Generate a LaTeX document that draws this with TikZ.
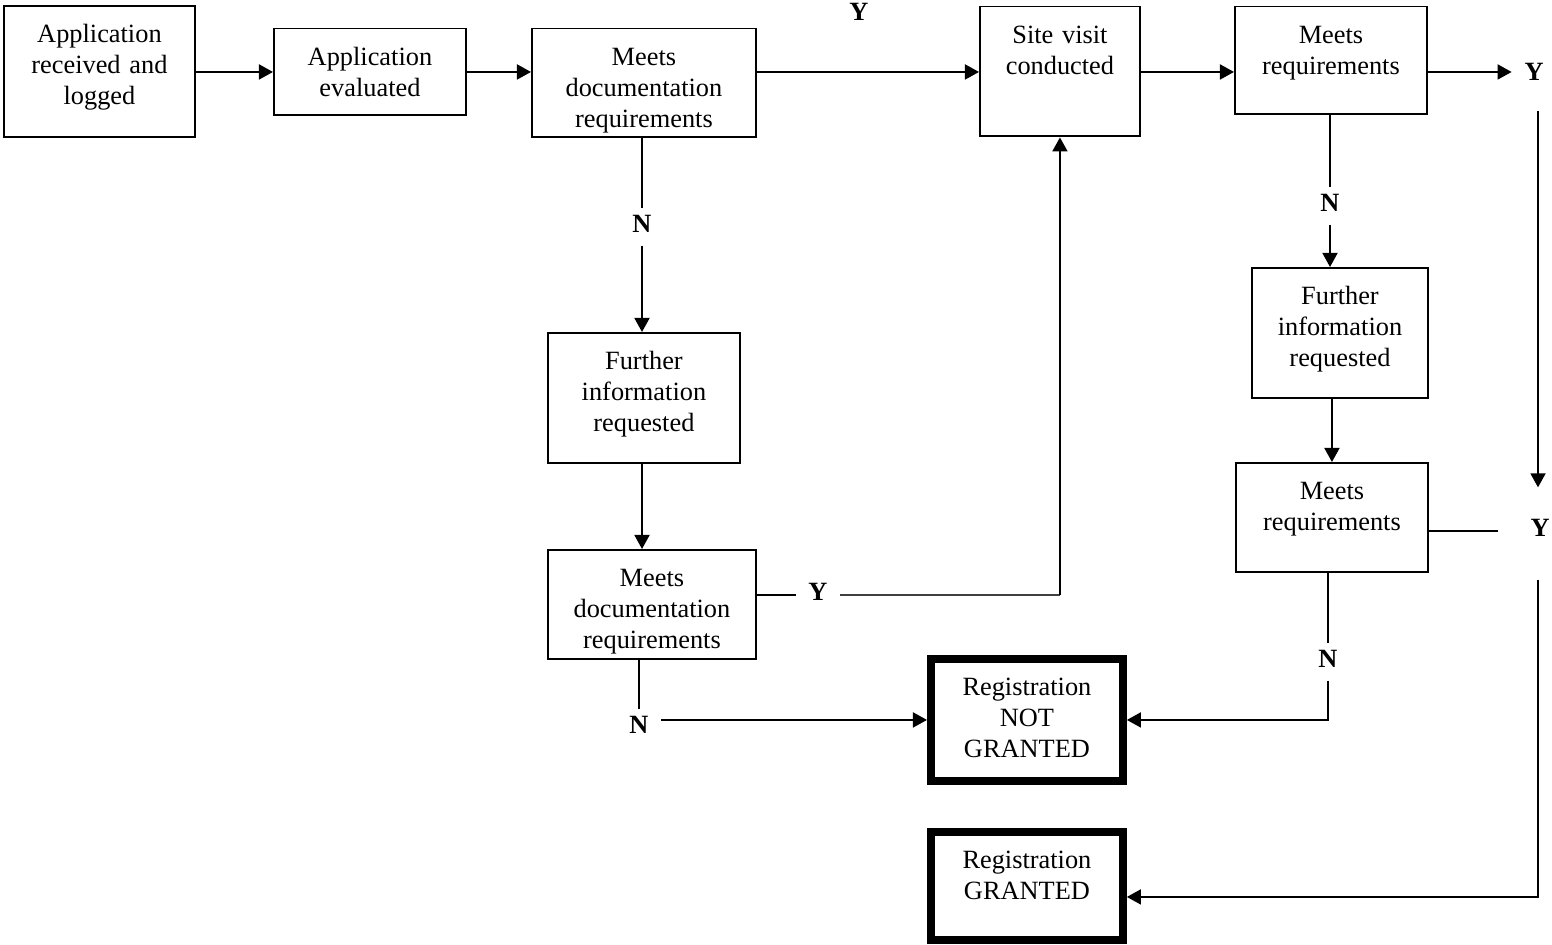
\documentclass[tikz,border=0pt]{standalone}
\usepackage{fontspec}
\setmainfont{Liberation Serif}
\usepackage{tikz}
\usetikzlibrary{positioning, arrows.meta, calc}

\newcommand{\flowfont}{\fontsize{15}{17.6}\selectfont}

\tikzset{
  box/.style 2 args={draw, line width=1.1pt, align=center, anchor=north west, font=\flowfont,
              inner xsep=0pt, inner ysep=0.38cm, text width=#1, text height=0.36cm, text depth=#2},
  endbox/.style 2 args={box={#1}{#2}, line width=4.5pt},
  yn/.style={font=\flowfont\bfseries, inner sep=0.25cm, text height=0.66em, text depth=0pt},
  arr/.style={-{Triangle[length=8pt,width=8.5pt]}, line width=1.2pt},
  link/.style={line width=1.2pt},
  thinlink/.style={line width=0.6pt, black!75}
}

\begin{document}
\begin{tikzpicture}[x=0.02cm, y=-0.02cm]
  \fill[white, use as bounding box] (0,0) rectangle (1552,944);

  % main line
  \node[box={3.82cm}{1.50cm}] (recv) at (3,5) {Application\\received and\\logged};
  \node[box={3.84cm}{0.62cm}] (eval) at (273,27.5) {Application\\evaluated};
  \node[box={4.48cm}{1.06cm}] (doc1) at (531,27.5) {Meets\\documentation\\requirements};
  \node[box={3.20cm}{1.48cm}] (site) at (979,5.5) {Site visit\\conducted};
  \node[box={3.84cm}{1.04cm}] (req1) at (1234,5.5) {Meets\\requirements};

  % documentation branch
  \node[box={3.84cm}{1.48cm}] (info1) at (547,332) {Further\\information\\requested};
  \node[box={4.16cm}{1.06cm}] (doc2) at (547,549) {Meets\\documentation\\requirements};

  % site visit branch
  \node[box={3.52cm}{1.48cm}] (info2) at (1251,267) {Further\\information\\requested};
  \node[box={3.84cm}{1.06cm}] (req2) at (1235,462) {Meets\\requirements};

  % outcomes
  \node[endbox={3.84cm}{1.32cm}] (refused) at (927,655) {Registration\\NOT\\GRANTED};
  \node[endbox={3.84cm}{1.04cm}] (granted) at (927,828) {Registration\\GRANTED};

  % Y / N labels
  \node[yn] (yTop) at (859,15) {Y};
  \node[yn] (nDoc1) at (642,227) {N};
  \node[yn] (nReq1) at (1330,206) {N};
  \node[yn] (yReq1) at (1534,75) {Y};
  \node[yn] (yReq2) at (1540,531) {Y};
  \node[yn] (yDoc2) at (818,595) {Y};
  \node[yn] (nDoc2) at (639,728) {N};
  \node[yn] (nReq2) at (1328,662) {N};

  % connectors
  \draw[arr] (recv.east |- eval) -- (eval);
  \draw[arr] (eval) -- (eval -| doc1.west);
  \draw[arr] (doc1.east |- eval) -- (site.west |- eval);
  \draw[arr] (site.east |- eval) -- (req1.west |- eval);
  \draw[arr] (req1.east |- eval) -- (yReq1.west |- eval);
  \draw[arr, shorten <=0.35cm, shorten >=0.5cm] ([xshift=-0.04cm]yReq2 |- yReq1.south) -- ([xshift=-0.04cm]yReq2.north);
  \draw[arr, shorten <=0.6cm] ([xshift=-0.04cm]yReq2.south) |- ([yshift=-0.22cm]granted.east);

  \draw[link] (doc1.south -| nDoc1) -- (nDoc1);
  \draw[arr] (nDoc1) -- (nDoc1 |- info1.north);
  \draw[arr] (info1.south -| nDoc1) -- (nDoc1 |- doc2.north);
  \draw[link] (doc2.east |- yDoc2) -- (yDoc2);
  \draw[thinlink] (yDoc2) -- (yDoc2 -| site);
  \draw[arr] (yDoc2 -| site) -- (site);
  \draw[link] (doc2.south -| nDoc2) -- (nDoc2);
  \draw[arr] (nDoc2.east |- refused) -- (refused);

  \draw[link] (req1.south -| nReq1) -- (nReq1);
  \draw[arr] (nReq1) -- (nReq1 |- info2.north);
  \draw[arr] (info2.south -| req2) -- (req2);
  \draw[link] (req2.east |- yReq2) -- ([xshift=-0.4cm]yReq2.west);
  \draw[link] (req2.south -| nReq2) -- (nReq2);
  \draw[arr] (nReq2) |- (refused);
\end{tikzpicture}
\end{document}
